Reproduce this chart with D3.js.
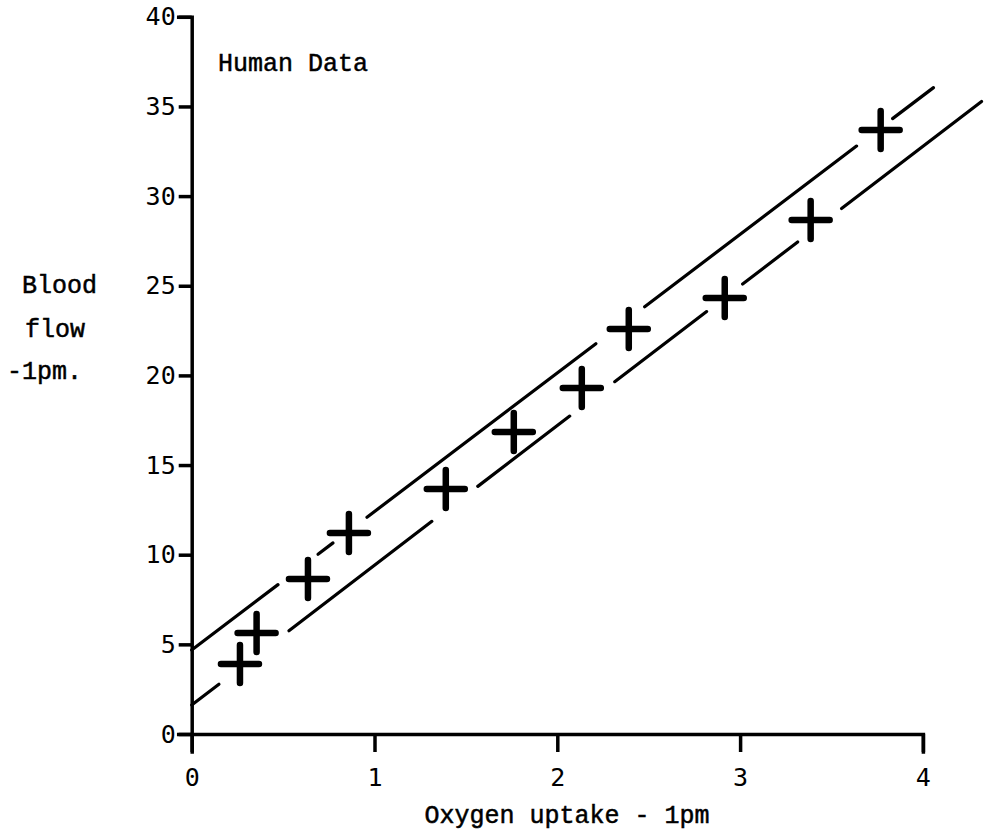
<!DOCTYPE html>
<html>
<head>
<meta charset="utf-8">
<script src="https://cdn.jsdelivr.net/npm/d3@7"></script>
<style>
    html, body { margin: 0; padding: 0; background: #fff; }
    #chart { width: 984px; height: 837px; }
    .axis path, .axis line { stroke: #000; stroke-width: 3.5; }
    .label { font-family: "Liberation Mono", "Courier New", monospace; font-size: 25px; fill: #000; stroke: #000; stroke-width: 0.5; }
</style>
</head>
<body>
<div id="chart"></div>
<script>
// oxygen uptake (lpm) and blood flow (lpm)
var oxygenUptake = [0.264, 0.355, 0.636, 0.860, 1.390, 1.762, 2.134, 2.391, 2.916, 3.386, 3.769];
var bloodFlow    = [3.90, 5.63, 8.64, 11.21, 13.66, 16.84, 19.30, 22.59, 24.32, 28.67, 33.69];

var xTicks = [0, 1, 2, 3, 4];
var yTicks = [0, 5, 10, 15, 20, 25, 30, 35, 40];

// broken straight lines: pieces as [x0, y0, x1, y1]
var upperLine = [
    [0, 4.68, 0.472, 8.33],
    [0.691, 10.02, 0.773, 10.66],
    [0.959, 12.09, 2.211, 21.77],
    [2.478, 23.83, 3.637, 32.79],
    [3.834, 34.32, 4.058, 36.05]
];
var lowerLine = [
    [0, 1.62, 0.149, 2.78],
    [0.532, 5.76, 1.314, 11.86],
    [1.565, 13.81, 2.068, 17.73],
    [2.314, 19.65, 2.817, 23.56],
    [3.014, 25.10, 3.315, 27.44],
    [3.555, 29.31, 4.321, 35.28]
];

function drawChart() {
    var svg = d3.select("#chart").append("svg")
        .attr("width", 984)
        .attr("height", 837);

    var x = d3.scaleLinear().domain([0, 4]).range([191.7, 922.9]);
    var y = d3.scaleLinear().domain([0, 40]).range([734, 16.8]);

    svg.append("g")
        .attr("class", "axis")
        .attr("transform", "translate(0," + y(0) + ")")
        .call(d3.axisBottom(x).tickValues(xTicks).tickSize(18).tickPadding(16).tickFormat(d3.format("d")));

    svg.append("g")
        .attr("class", "axis")
        .attr("transform", "translate(" + x(0) + ",0)")
        .call(d3.axisLeft(y).tickValues(yTicks).tickSize(13).tickPadding(3).tickFormat(d3.format("d")));

    svg.selectAll(".axis path").attr("stroke-linecap", "square");
    svg.selectAll(".axis text")
        .style("font-family", "'DejaVu Sans Mono', monospace")
        .style("font-size", "25px")
        .style("fill", "#000");

    var pieces = upperLine.concat(lowerLine);
    svg.selectAll(".fit")
        .data(pieces)
        .enter().append("line")
        .attr("class", "fit")
        .attr("x1", function(d) { return x(d[0]); })
        .attr("y1", function(d) { return y(d[1]); })
        .attr("x2", function(d) { return x(d[2]); })
        .attr("y2", function(d) { return y(d[3]); })
        .attr("stroke", "#000")
        .attr("stroke-width", 3.2)
        .attr("stroke-linecap", "round");

    var points = oxygenUptake.map(function(v, i) { return { x: v, y: bloodFlow[i] }; });
    var arm = 19;
    svg.selectAll(".cross")
        .data(points)
        .enter().append("path")
        .attr("class", "cross")
        .attr("d", function(d) {
            var cx = x(d.x), cy = y(d.y);
            return "M" + (cx - arm) + "," + cy + "H" + (cx + arm) +
                   "M" + cx + "," + (cy - arm) + "V" + (cy + arm);
        })
        .attr("stroke", "#000")
        .attr("stroke-width", 6.5)
        .attr("stroke-linecap", "round")
        .attr("fill", "none");

    svg.append("text")
        .attr("class", "label")
        .attr("x", 218)
        .attr("y", 71)
        .text("Human Data");

    svg.append("text")
        .attr("class", "label")
        .attr("x", 567)
        .attr("y", 823)
        .attr("text-anchor", "middle")
        .text("Oxygen uptake - 1pm");

    var yLabel = [["Blood", 22, 293], ["flow", 25, 337], ["-1pm.", 7, 379]];
    svg.selectAll(".ylab")
        .data(yLabel)
        .enter().append("text")
        .attr("class", "label ylab")
        .attr("x", function(d) { return d[1]; })
        .attr("y", function(d) { return d[2]; })
        .text(function(d) { return d[0]; });
}

drawChart();
</script>
</body>
</html>
